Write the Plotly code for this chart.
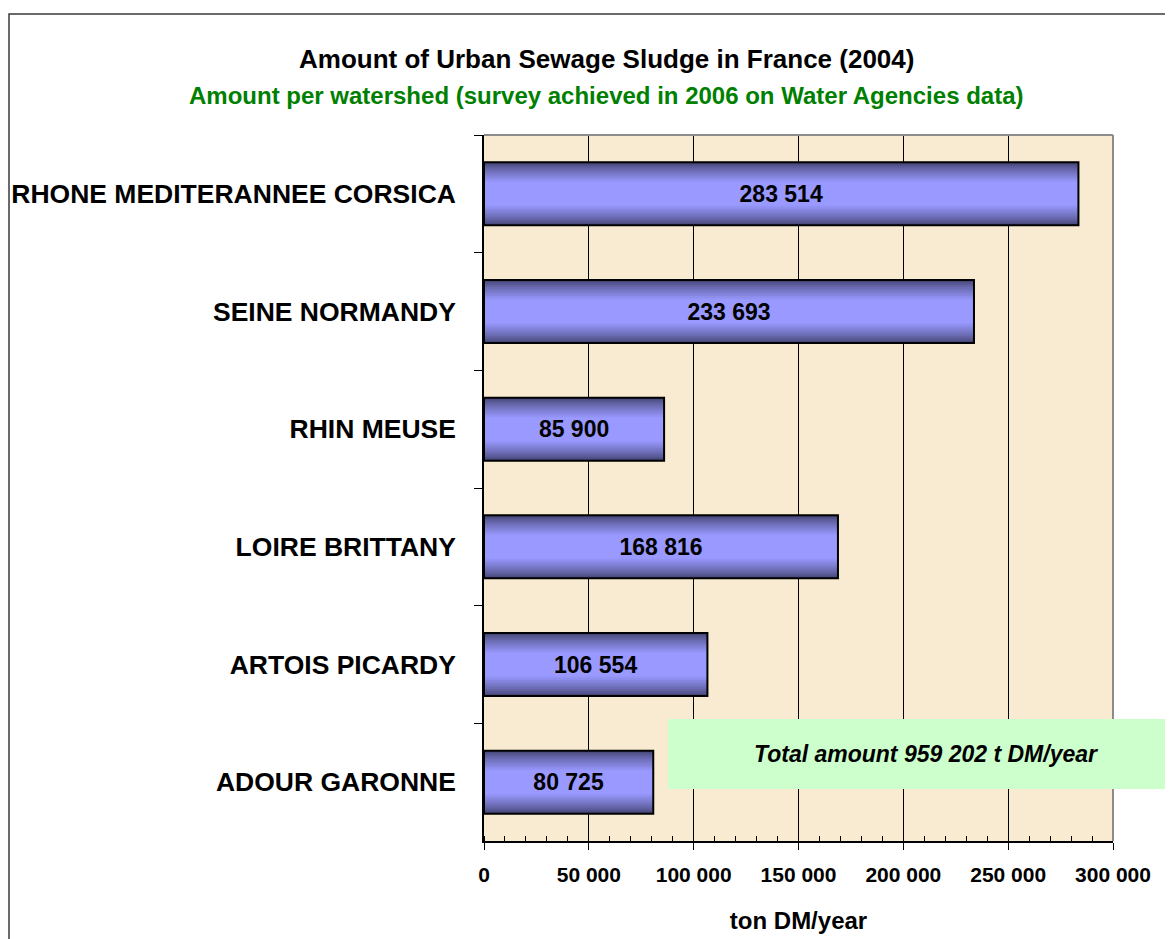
import plotly.graph_objects as go

# watersheds, top to bottom as in the chart
basins = ['RHONE MEDITERANNEE CORSICA', 'SEINE NORMANDY', 'RHIN MEUSE',
          'LOIRE BRITTANY', 'ARTOIS PICARDY', 'ADOUR GARONNE']
sludge = [283514, 233693, 85900, 168816, 106554, 80725]  # t DM/year

title = 'Amount of Urban Sewage Sludge in France (2004)'
subtitle = 'Amount per watershed (survey achieved in 2006 on Water Agencies data)'
x_title = 'ton DM/year'
x_ticks = [0, 50000, 100000, 150000, 200000, 250000, 300000]

FONT = 'Liberation Sans, Arial, sans-serif'

# page is 1173x939, the browser puts the plot 8px in from the top-left
PAGE_W, PAGE_H, OFF = 1173, 939, 8
W, H = PAGE_W - OFF, PAGE_H - OFF
# plot area in page pixels
X0, X1, Y0, Y1 = 484, 1113, 135, 841
L, R, T, B = X0 - OFF, PAGE_W - X1, Y0 - OFF, PAGE_H - Y1
pw, ph = X1 - X0, Y1 - Y0


def px_x(px):
    return (px - X0) / pw


def px_y(py):
    return (Y1 - py) / ph


def mix(c1, c2, t):
    return '#' + ''.join(f'{round(a + (b - a) * t):02x}' for a, b in zip(c1, c2))


fig = go.Figure()

# fake a vertical gradient by overlaying narrower and lighter bars
bar_w = 0.535
dark, light = (0x46, 0x46, 0x76), (0x99, 0x99, 0xff)
n_layers = 12
for i in range(n_layers):
    t = i / (n_layers - 1)
    fig.add_trace(go.Bar(
        y=basins, x=sludge, orientation='h',
        width=bar_w * (1 - 0.62 * t),
        marker=dict(color=mix(dark, light, t ** 0.8), line=dict(width=0)),
        hoverinfo='skip', showlegend=False))

# outline + labels on top
fig.add_trace(go.Bar(
    y=basins, x=sludge, orientation='h', width=bar_w,
    marker=dict(color='rgba(0,0,0,0)', line=dict(color='black', width=2)),
    texttemplate='%{x:,d}', textposition='inside', insidetextanchor='middle',
    constraintext='none',
    textfont=dict(family=FONT, size=23, color='black', weight='bold'),
    showlegend=False))

total = sum(sludge)

fig.update_layout(
    width=W, height=H,
    margin=dict(l=L, r=R, t=T, b=B, autoexpand=False),
    barmode='overlay',
    separators=', ',
    paper_bgcolor='white',
    plot_bgcolor='#f9ebd1',
    font=dict(family=FONT, color='black'),
    showlegend=False,
)

fig.update_xaxes(
    range=[0, 300000], tickvals=x_ticks, tickformat=',d',
    showgrid=True, gridcolor='black', gridwidth=1,
    showline=True, linecolor='black', linewidth=1.5,
    ticks='outside', ticklen=7, tickcolor='black', tickwidth=1,
    minor=dict(dtick=10000, ticks='inside', ticklen=5, tickcolor='black',
               tickwidth=1, showgrid=False),
    tickfont=dict(family=FONT, size=21, weight='bold'),
    ticklabelstandoff=7,
    title=dict(text=f'<b>{x_title}</b>', font=dict(family=FONT, size=24), standoff=27),
    zeroline=False, automargin=False, fixedrange=True,
)
fig.update_yaxes(
    autorange='reversed', tickson='boundaries',
    showline=True, linecolor='black', linewidth=1.5,
    ticks='outside', ticklen=8, tickcolor='black',
    showgrid=False, zeroline=False,
    tickfont=dict(family=FONT, size=26.5, weight='bold'),
    ticklabelstandoff=21, automargin=False,
)

# gray frame on top and right of the plot area
fig.add_shape(type='line', xref='paper', yref='paper', x0=0, x1=1, y0=1, y1=1,
              line=dict(color='#8c8c8c', width=2))
fig.add_shape(type='line', xref='paper', yref='paper', x0=1, x1=1, y0=0, y1=1,
              line=dict(color='#8c8c8c', width=2))

# outer chart frame
fig.add_shape(type='rect', xref='paper', yref='paper',
              x0=px_x(9), x1=px_x(PAGE_W + 20), y0=px_y(PAGE_H + 20), y1=px_y(14),
              line=dict(color='#3a3a3a', width=1.5), fillcolor='rgba(0,0,0,0)')

# total box
fig.add_shape(type='rect', xref='paper', yref='paper', layer='above',
              x0=px_x(668), x1=px_x(PAGE_W + 10), y0=px_y(789), y1=px_y(719),
              line=dict(width=0), fillcolor='#ccffcc')
fig.add_annotation(xref='paper', yref='paper', x=px_x(926), y=px_y(754),
                   text=f'<b><i>Total amount {total:,} t DM/year</i></b>'.replace(',', ' '),
                   showarrow=False, xanchor='center', yanchor='middle',
                   font=dict(family=FONT, size=23, color='black'))

fig.add_annotation(xref='paper', yref='paper', x=px_x(606), y=px_y(59),
                   text=f'<b>{title}</b>', showarrow=False,
                   xanchor='center', yanchor='middle',
                   font=dict(family=FONT, size=26, color='black'))
fig.add_annotation(xref='paper', yref='paper', x=px_x(606), y=px_y(96),
                   text=f'<b>{subtitle}</b>', showarrow=False,
                   xanchor='center', yanchor='middle',
                   font=dict(family=FONT, size=24, color='#008000'))

fig.write_html('out.html')
